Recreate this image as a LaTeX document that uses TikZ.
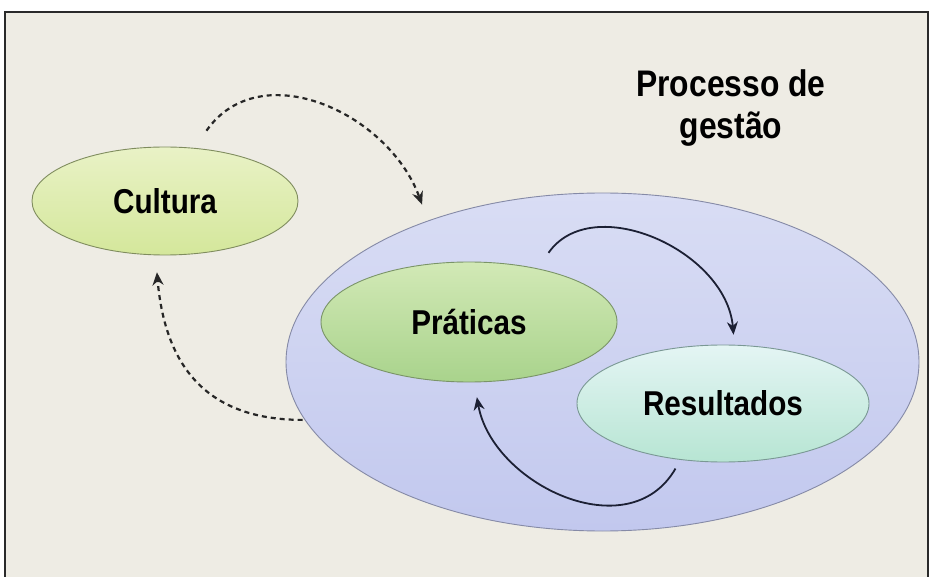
\documentclass[tikz,border=0pt]{standalone}
\usepackage{fontspec}
\setmainfont{Liberation Sans}
\newfontfamily\narrowbold[FakeStretch=0.86]{Liberation Sans Bold}
\usetikzlibrary{shapes.geometric,arrows.meta}

\definecolor{paper}{HTML}{EEECE4}
\definecolor{frameline}{HTML}{2A2A2A}
\definecolor{culTop}{HTML}{E9F2C6}
\definecolor{culBot}{HTML}{D4E79B}
\definecolor{culEdge}{HTML}{7F8C5E}
\definecolor{praTop}{HTML}{D2E9B6}
\definecolor{praBot}{HTML}{A9D38C}
\definecolor{praEdge}{HTML}{7A9468}
\definecolor{resTop}{HTML}{E4F5F4}
\definecolor{resBot}{HTML}{B7E5D3}
\definecolor{resEdge}{HTML}{7A9894}
\definecolor{bigTop}{HTML}{D9DDF4}
\definecolor{bigBot}{HTML}{C2C8EE}
\definecolor{bigEdge}{HTML}{858AA6}
\definecolor{loopink}{HTML}{1C2034}

\tikzset{
  blob/.style={ellipse, inner sep=0pt, line width=0.9pt,
    font=\narrowbold\fontsize{34.5}{35}\selectfont},
  flowdash/.style={line width=2.2pt, dash pattern=on 5pt off 4pt,
    draw=black!85, -{Stealth[length=13pt,width=11pt]}},
  flowloop/.style={line width=1.8pt, draw=loopink,
    -{Stealth[length=13pt,width=11pt]}}
}

\begin{document}
\begin{tikzpicture}[x=1pt,y=1pt]
  \useasboundingbox (0,0) rectangle (931,576);
  \clip (0,0) rectangle (931,576);

  % paper and frame
  \fill[white] (0,0) rectangle (931,576);
  \fill[paper] (5,-10) rectangle (928,564);
  \draw[frameline, line width=1.3pt] (5,-10) -- (5,564) -- (928,564) -- (928,-10);

  % management process and its parts
  \node[blob, draw=bigEdge, top color=bigTop, bottom color=bigBot,
        minimum width=633pt, minimum height=338pt] (big) at (602.5,214) {};
  \node[blob, draw=praEdge, top color=praTop, bottom color=praBot,
        minimum width=296pt, minimum height=120pt] (prat) at (469,254) {Práticas};
  \node[blob, draw=resEdge, top color=resTop, bottom color=resBot,
        minimum width=292pt, minimum height=117pt] (res) at (723,172.5) {Resultados};
  \node[blob, draw=culEdge, top color=culTop, bottom color=culBot,
        minimum width=266pt, minimum height=108pt] (cul) at (165,375) {Cultura};

  \node[font=\narrowbold\fontsize{37}{42}\selectfont, align=center]
        (title) at (731,468) {Processo de\\gestão};

  % culture feeds the process, the process shapes culture
  \draw[flowdash, shorten <=21pt, shorten >=17pt]
    (cul.61) to[out=55, in=110, looseness=1.2] (big.141);
  \draw[flowdash, shorten <=2pt, shorten >=17pt]
    (big.191) to[out=180, in=-85, looseness=1.2] (cul.260);

  % practices produce results, results revise practices
  \draw[flowloop, shorten <=19pt, shorten >=10pt]
    (prat.38) to[out=55, in=95, looseness=1.15] (res.79);
  \draw[flowloop, shorten <=10pt, shorten >=15pt]
    (res.233) to[out=240, in=-80, looseness=1.2] (prat.275);
\end{tikzpicture}
\end{document}
